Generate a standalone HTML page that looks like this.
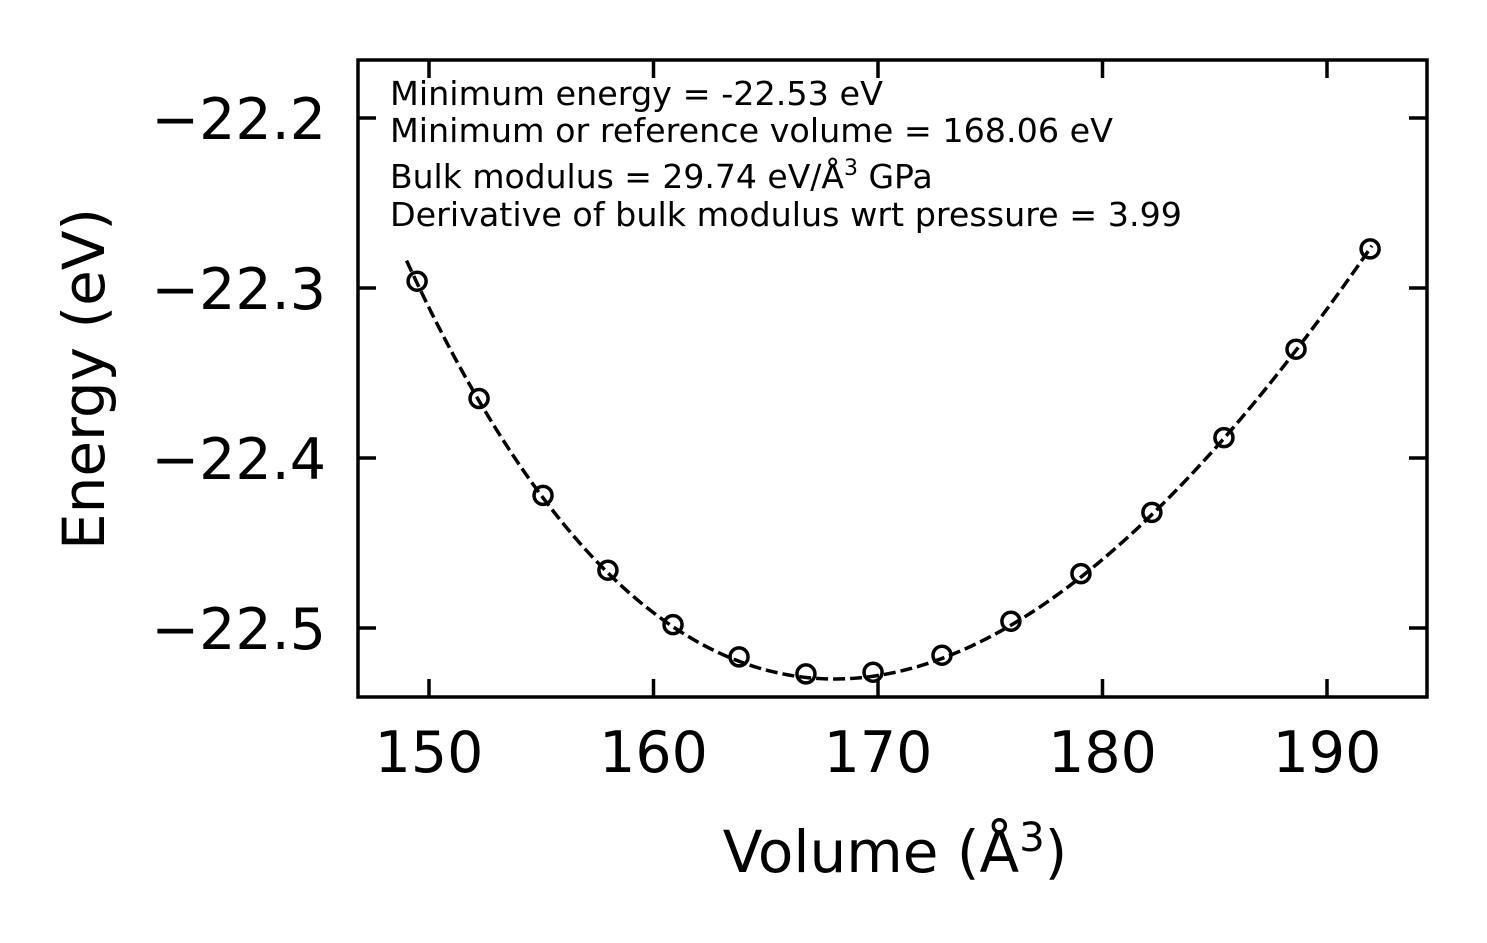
<!DOCTYPE html>
<html><head><meta charset="utf-8"><style>
html,body{margin:0;padding:0;background:#fff}
svg{display:block;font-family:"DejaVu Sans","Liberation Sans",sans-serif}
</style></head><body>
<svg id="chart" width="1487" height="943" viewBox="0 0 1487 943" xmlns="http://www.w3.org/2000/svg">
<rect x="0" y="0" width="1487" height="943" fill="#fff"/>
<g id="marks"></g>
<rect x="358" y="60" width="1069" height="637" fill="none" stroke="#000" stroke-width="3.5"/>
<g id="ticks"></g>
<g font-size="33" fill="#000">
<text x="390" y="105" textLength="493" lengthAdjust="spacingAndGlyphs">Minimum energy = -22.53 eV</text>
<text x="390" y="142" textLength="723" lengthAdjust="spacingAndGlyphs">Minimum or reference volume = 168.06 eV</text>
<text x="390" y="188">Bulk modulus = 29.74 eV/Å<tspan font-size="22" dy="-13">3</tspan><tspan dy="13"> GPa</tspan></text>
<text x="390" y="226" textLength="792" lengthAdjust="spacingAndGlyphs">Derivative of bulk modulus wrt pressure = 3.99</text>
</g>
<text x="895" y="872" font-size="58" text-anchor="middle">Volume (Å<tspan font-size="40" dy="-21">3</tspan><tspan dy="21">)</tspan></text>
<text transform="translate(104,379) rotate(-90)" font-size="58" text-anchor="middle">Energy (eV)</text>
</svg>
<script>
const volumes=[149.47,152.23,155.08,157.97,160.87,163.81,166.79,169.78,172.85,175.92,179.04,182.2,185.41,188.62,191.92];
const energies=[-22.296,-22.365,-22.422,-22.466,-22.498,-22.517,-22.527,-22.526,-22.516,-22.496,-22.468,-22.432,-22.388,-22.336,-22.277];
const xTicks=[150,160,170,180,190];
const yTicks=[-22.2,-22.3,-22.4,-22.5];
const fitE0=-22.53, fitV0=168.06, fitB0GPa=29.74, fitBp=3.99;
const fitRange=[149,192];

const NS='http://www.w3.org/2000/svg';
const sx=v=>429+(v-150)*22.45;
const sy=e=>118+(-22.2-e)*1700;
const marks=document.getElementById('marks');
const ticks=document.getElementById('ticks');
function mk(tag,attrs,parent){const el=document.createElementNS(NS,tag);for(const k in attrs)el.setAttribute(k,attrs[k]);parent.appendChild(el);return el;}

const B0=fitB0GPa/160.2177;
const murn=V=>fitE0+B0*V/fitBp*(Math.pow(fitV0/V,fitBp)/(fitBp-1)+1)-B0*fitV0/(fitBp-1);
let d='';
for(let i=0;i<=200;i++){const V=fitRange[0]+(fitRange[1]-fitRange[0])*i/200;d+=(i?'L':'M')+sx(V).toFixed(2)+','+sy(murn(V)).toFixed(2);}
const fit=mk('path',{d:d,fill:'none',stroke:'#000','stroke-width':3.5,'stroke-dasharray':'12,5'},marks);



volumes.forEach((v,i)=>{
  const c=mk('circle',{cx:sx(v),cy:sy(energies[i]),r:9,fill:'none',stroke:'#000','stroke-width':3.5},marks);
  
  
});

xTicks.forEach(t=>{
  const x=sx(t);
  const a=mk('line',{x1:x,y1:697,x2:x,y2:679,stroke:'#000','stroke-width':3.5},ticks);
  
  
  const b=mk('line',{x1:x,y1:60,x2:x,y2:78,stroke:'#000','stroke-width':3.5},ticks);
  
  
  const l=mk('text',{x:x,y:772,'font-size':57,'text-anchor':'middle'},ticks);
  
  
  l.textContent=String(t);
});
yTicks.forEach(t=>{
  const y=sy(t);
  const a=mk('line',{x1:358,y1:y,x2:376,y2:y,stroke:'#000','stroke-width':3.5},ticks);
  
  
  const b=mk('line',{x1:1427,y1:y,x2:1409,y2:y,stroke:'#000','stroke-width':3.5},ticks);
  
  
  const l=mk('text',{x:326,y:y+21,'font-size':57,'text-anchor':'end'},ticks);
  
  
  l.textContent='\u2212'+Math.abs(t).toFixed(1);
});
</script>
</body></html>
